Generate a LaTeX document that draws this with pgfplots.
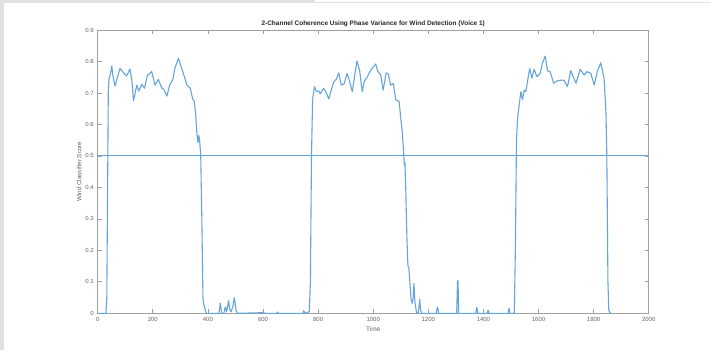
\documentclass[border=0pt]{standalone}
\usepackage{pgfplots}
\pgfplotsset{compat=1.18}
\usepackage{fontspec}
\setmainfont{Liberation Sans}
\definecolor{mblue}{RGB}{100,165,220}
\definecolor{axgray}{RGB}{160,160,160}
\definecolor{lblgray}{RGB}{100,100,100}
\definecolor{bggray}{RGB}{225,225,228}
\begin{document}
\begin{tikzpicture}[x=1bp,y=1bp]
\useasboundingbox (0,0) rectangle (711,350);
\fill[white] (0,0) rectangle (711,350);
\fill[bggray] (0,0) rectangle (4,350);
\fill[bggray] (0,347) rectangle (315,350);
\draw[bggray,line width=0.8bp] (315,348) -- (711,348);
\begin{axis}[
  at={(97.7bp,36.7bp)}, anchor=south west,
  scale only axis, width=551bp, height=283.3bp,
  xmin=0, xmax=2000, ymin=0, ymax=0.9,
  xtick={0,200,...,2000},
  xticklabels={0,200,400,600,800,1000,1200,1400,1600,1800,2000},
  ytick={0,0.1,0.2,0.3,0.4,0.5,0.6,0.7,0.8,0.9},
  yticklabels={0,0.1,0.2,0.3,0.4,0.5,0.6,0.7,0.8,0.9},
  tick align=inside, major tick length=4bp,
  axis line style={axgray, line width=0.9bp},
  every tick/.style={axgray, line width=0.7bp},
  tick label style={font=\fontsize{6}{7}\selectfont, text=lblgray},
  /pgf/number format/assume math mode=true,
  xticklabel style={yshift=-1bp},
  yticklabel style={xshift=-0.5bp},
  title={\textbf{2-Channel Coherence Using Phase Variance for Wind Detection (Voice 1)}},
  title style={font=\fontsize{6.5}{7.5}\selectfont, text=black!85, at={(0.5,1)}, anchor=south, yshift=-6.5bp},
  xlabel={Time},
  xlabel style={font=\fontsize{6.5}{7.5}\selectfont, text=lblgray, yshift=2bp},
  ylabel={Wind Classifier Score},
  ylabel style={font=\fontsize{6.3}{7}\selectfont, text=lblgray, yshift=-3bp},
  clip=true,
]
\addplot[mblue, line width=1bp] coordinates {(0,0.5) (2000,0.5)};
\addplot[mblue, line width=1.1bp, line join=round] coordinates {
(0,0) (30,0) (33,0.05) (36,0.4) (38.5,0.71) (41,0.745) (46,0.76) (51,0.786) (56,0.75) (63,0.722) (70,0.745) (81,0.778) (93,0.765) (105,0.754) (117,0.776) (124,0.74) (130,0.675) (136,0.7) (142,0.725) (149,0.706) (160,0.727) (170,0.715) (180,0.755) (196,0.768) (208,0.725) (220,0.743) (233,0.715) (240,0.712) (251,0.69) (261,0.725) (273,0.743) (280,0.778) (293,0.81) (302,0.785) (311,0.762) (324,0.725) (336,0.715) (345,0.68) (350,0.675) (355,0.64) (360,0.572) (364,0.542) (367,0.565) (370,0.55) (374,0.5) (378,0.3) (382,0.05) (384,0.03) (388,0.02) (392,0.005) (395,0) (440,0) (445,0.032) (450,0) (458,0) (463,0.02) (468,0.005) (475,0.04) (480,0.01) (484,0.005) (490,0.02) (496,0.05) (502,0.01) (508,0) (600,0.002) (610,0) (650,0) (653,0.004) (656,0) (745,0) (748,0.008) (752,0) (768,0.005) (772,0.1) (776,0.5) (780,0.68) (787,0.72) (794,0.704) (802,0.707) (808,0.697) (820,0.715) (830,0.7) (839,0.681) (848,0.71) (857,0.736) (866,0.743) (875,0.764) (884,0.725) (895,0.73) (905,0.762) (915,0.735) (924,0.704) (932,0.75) (941,0.802) (951,0.77) (960,0.704) (968,0.738) (978,0.75) (988,0.768) (996,0.778) (1009,0.792) (1017,0.768) (1027,0.758) (1036,0.709) (1047,0.764) (1055,0.76) (1063,0.725) (1073,0.73) (1082,0.678) (1094,0.673) (1100,0.62) (1106,0.572) (1111,0.503) (1113,0.47) (1115,0.48) (1118,0.4) (1122,0.25) (1126,0.15) (1129,0.148) (1133,0.1) (1138,0.04) (1142,0.032) (1145,0.05) (1148,0.095) (1151,0.04) (1154,0.02) (1158,0) (1164,0.002) (1169,0.044) (1172,0.01) (1176,0) (1228,0) (1233,0.02) (1238,0) (1303,0) (1306,0.1) (1308,0.104) (1310,0) (1372,0) (1376,0.019) (1380,0) (1413,0) (1417,0.01) (1421,0) (1489,0) (1493,0.016) (1497,0) (1512,0) (1516,0.2) (1520,0.55) (1524,0.62) (1529,0.656) (1536,0.704) (1542,0.678) (1548,0.709) (1554,0.704) (1560,0.736) (1568,0.778) (1576,0.747) (1584,0.775) (1594,0.752) (1606,0.762) (1614,0.794) (1624,0.817) (1633,0.77) (1642,0.768) (1655,0.731) (1669,0.739) (1687,0.741) (1693,0.74) (1705,0.72) (1717,0.771) (1723,0.757) (1736,0.731) (1751,0.775) (1766,0.757) (1776,0.768) (1790,0.762) (1802,0.725) (1814,0.77) (1826,0.796) (1838,0.746) (1845,0.635) (1848,0.5) (1852,0.1) (1855,0.01) (1860,0) (1865,0)
};
\end{axis}
\end{tikzpicture}
\end{document}
